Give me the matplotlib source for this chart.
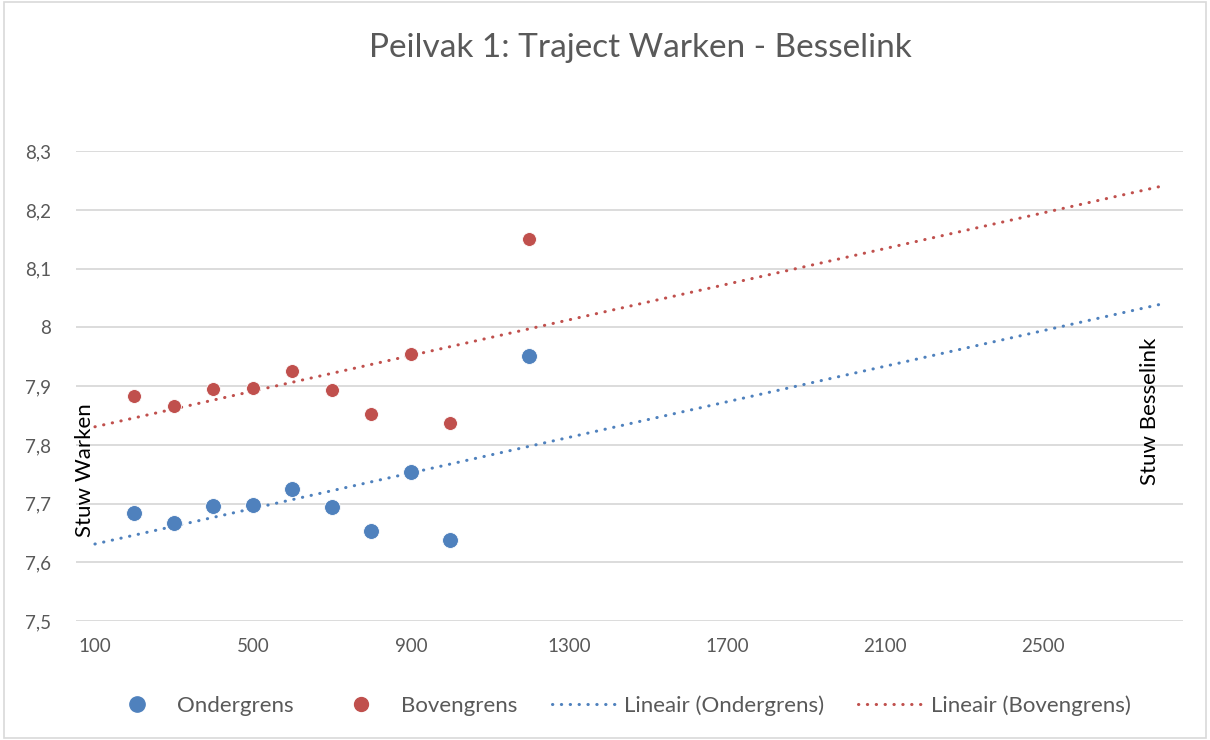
import numpy as np
import matplotlib
matplotlib.use("Agg")
import matplotlib.pyplot as plt
from matplotlib.patches import Rectangle
from matplotlib.lines import Line2D

plt.rcParams['font.family'] = ['Lato', 'DejaVu Sans']

# afstand langs het traject en peilgrenzen
afstand = [200, 300, 400, 500, 600, 700, 800, 900, 1000, 1200]
ondergrens = [7.684, 7.667, 7.696, 7.697, 7.725, 7.694, 7.653, 7.754, 7.638, 7.951]
bovengrens = [7.884, 7.866, 7.896, 7.897, 7.925, 7.894, 7.853, 7.954, 7.838, 8.151]
trend_bereik = [100, 2800]  # trendlijn: 100 terug, tot 2800 vooruit

x_ticks = [100, 500, 900, 1300, 1700, 2100, 2500]
y_ticks = [7.5, 7.6, 7.7, 7.8, 7.9, 8.0, 8.1, 8.2, 8.3]

blauw = '#4F81BD'
rood = '#C0504D'
grijs = '#595959'

fig = plt.figure(figsize=(12.1, 7.4), dpi=100)
ax = fig.add_axes([0.0628, 0.1608, 0.9149, 0.6347])

x = np.array(afstand, dtype=float)
xt = np.array(trend_bereik, dtype=float)
dots = (0, (0.1, 2.8))
for y, kleur in [(ondergrens, blauw), (bovengrens, rood)]:
    a, b = np.polyfit(x, np.array(y), 1)
    ax.plot(xt, a * xt + b, color=kleur, lw=2.2, linestyle=dots,
            dash_capstyle='round', zorder=2)

ax.scatter(afstand, ondergrens, s=130, color=blauw, edgecolor='white', linewidth=0.6, zorder=3)
ax.scatter(afstand, bovengrens, s=100, color=rood, edgecolor='white', linewidth=0.6, zorder=3)

ax.set_xlim(52, 2855)
ax.set_ylim(7.5, 8.3)
ax.set_xticks(x_ticks)
ax.set_yticks(y_ticks)
ax.set_yticklabels([('%g' % v).replace('.', ',') for v in y_ticks])
ax.tick_params(length=0, colors=grijs, labelsize=13.5)
ax.tick_params(axis='x', pad=12)
ax.tick_params(axis='y', pad=18)
ax.grid(axis='y', color='#D9D9D9', lw=1.3)
ax.set_axisbelow(True)
for s in ax.spines.values():
    s.set_visible(False)

ax.text(75, 7.757, 'Stuw Warken', rotation=90, ha='center', va='center', fontsize=16, color='black')
ax.text(2771, 7.857, 'Stuw Besselink', rotation=90, ha='center', va='center', fontsize=16, color='black')

fig.text(0.529, 0.935, 'Peilvak 1: Traject Warken - Besselink', ha='center', va='center',
         fontsize=24, color=grijs)

handles = [
    Line2D([], [], marker='o', ls='none', color=blauw, markersize=11),
    Line2D([], [], marker='o', ls='none', color=rood, markersize=10),
    Line2D([], [], color=blauw, lw=2.2, ls=dots, dash_capstyle='round'),
    Line2D([], [], color=rood, lw=2.2, ls=dots, dash_capstyle='round'),
]
labels = ['Ondergrens', 'Bovengrens', 'Lineair (Ondergrens)', 'Lineair (Bovengrens)']
leg = fig.legend(handles, labels, loc='center', bbox_to_anchor=(0.5106, 0.047), ncol=4,
                 frameon=False, fontsize=16, handlelength=2.9, columnspacing=1.55,
                 handletextpad=0.35)
for t in leg.get_texts():
    t.set_color(grijs)

fig.patches.append(Rectangle((0.003, 0.003), 0.994, 0.994, transform=fig.transFigure,
                             fill=False, edgecolor='#D9D9D9', lw=1.2))

fig.savefig('out.png', dpi=100)
